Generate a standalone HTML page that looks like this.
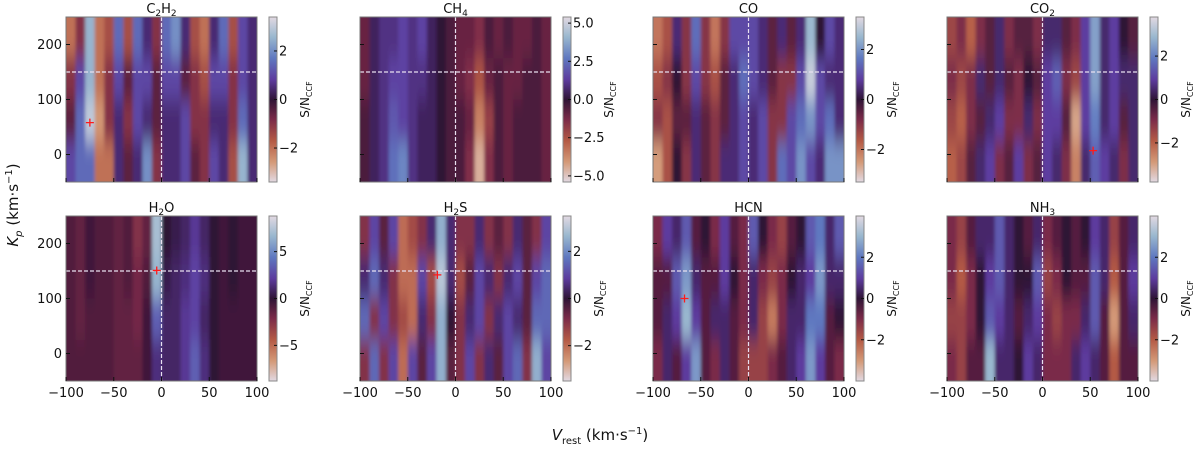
<!DOCTYPE html>
<html><head><meta charset="utf-8">
<style>
body{margin:0;background:#fff;}
svg text{font-family:"DejaVu Sans","Liberation Sans",sans-serif;fill:#111;}
</style></head>
<body>
<svg id="fig" xmlns="http://www.w3.org/2000/svg" width="1200" height="448" viewBox="0 0 1200 448">
<defs>
<linearGradient id="cmap" x1="0" y1="1" x2="0" y2="0">
<stop offset="0" stop-color="#e2d9e2"/><stop offset="0.12" stop-color="#d49a78"/>
<stop offset="0.25" stop-color="#b45a45"/><stop offset="0.38" stop-color="#7a2a48"/>
<stop offset="0.5" stop-color="#2f1436"/><stop offset="0.62" stop-color="#5d3b9e"/>
<stop offset="0.75" stop-color="#5f78c0"/><stop offset="0.88" stop-color="#9ab8cf"/>
<stop offset="1" stop-color="#e2d9e2"/>
</linearGradient>
<filter id="soft" x="-10%" y="-10%" width="120%" height="120%"><feGaussianBlur stdDeviation="1.6 11"/></filter>
</defs>
<text transform="translate(18,205) rotate(-90)" text-anchor="middle" font-size="15"><tspan font-style="italic">K</tspan><tspan font-style="italic" font-size="10" dy="4">p</tspan><tspan dy="-4"> (km·s</tspan><tspan font-size="10" dy="-6">−1</tspan><tspan dy="6">)</tspan></text>
<text x="600" y="440" text-anchor="middle" font-size="15"><tspan font-style="italic">V</tspan><tspan font-size="10" dy="4">rest</tspan><tspan dy="-4"> (km·s</tspan><tspan font-size="10" dy="-6">−1</tspan><tspan dy="6">)</tspan></text>
</svg>
<script>
const vTicks=[-100,-50,0,50,100];
const kpTicks=[0,100,200];
const kpBands=[250,175,100,25,-50];
const names=["C2H2","CH4","CO","CO2","H2O","H2S","HCN","NH3"];
const titles=[["C",["2"],"H",["2"]],["CH",["4"]],["CO"],["CO",["2"]],["H",["2"],"O"],["H",["2"],"S"],["HCN"],["NH",["3"]]];
const vmax=[3.4,5.4,3.3,3.8,8.8,3.5,4.0,4.0];
const cbTicks=[[-2,0,2],[-5,-2.5,0,2.5,5],[-2,0,2],[-2,0,2],[-5,0,5],[-2,0,2],[-2,0,2],[-2,0,2]];
const cbLabels=[["−2","0","2"],["−5.0","−2.5","0.0","2.5","5.0"],["−2","0","2"],["−2","0","2"],["−5","0","5"],["−2","0","2"],["−2","0","2"],["−2","0","2"]];
const crossV=[-75,null,null,53,-5,-19,-67,null];
const crossKp=[58,null,null,7,151,143,100,null];
const snC2H2=[[-2,-1,2.5,-2,-1.5,1.5,-1.5,1.5,0.5,-1,1.5,2,0.5,-1.5,-2,0.5,1.5,-1.5,1,0.5],[-1,1,2.5,-2,-1,1,-0.5,1,1,-0.5,1,1,-0.5,-1,-1.5,1,1,-1,1,0.5],[-0.5,1.5,3,-2.5,-1,0.5,-1,1,0.5,-0.5,0.5,0.5,1,-1,-1,0.5,0.5,-1,1.5,0.5],[1,1.5,1.5,-2,-2,0.5,-0.5,0.5,2,-1,0.5,0.5,1,-0.5,-1,1,0.5,-1.5,2.5,0.5]];
const snCH4=[[-1,0.5,1,1,1.5,1,1.5,0.5,0,-0.5,-1,-1,-1.5,-0.5,-1,-0.5,-1,-1,-0.5,-1],[-1,0.5,1,1.5,1.5,1,1,0.5,0,-0.5,-1,-1.5,-2.5,-1,-0.5,-1,-1,-0.5,-0.5,-1],[-0.5,0.5,1,2,1.5,1,0.5,0.5,0,-0.5,-0.5,-1,-3.5,-2,-0.5,-1,-0.5,-0.5,-0.5,-1],[-0.5,0.5,1,2.5,3,1,0.5,0.5,0,-0.5,-0.5,-1.5,-4.5,-1.5,-0.5,-1,-0.5,-0.5,-0.5,-1]];
const snCO=[[-2,-1.5,0.5,-1,1.5,-1,-2,-1,1,1,1,0.5,-0.5,0.5,-0.5,0.5,2.5,0,1,0.5],[-1.5,-1,0,-1,1,-1,-1.5,-0.5,0.5,1.5,1,0.5,-0.5,-1,-1,1,3,1,0.5,0.5],[-1,-1.5,-0.5,-0.5,0.5,-0.5,-1,-0.5,0.5,1,0.5,1,-1,-1,1,1.5,2,1,1.5,0.5],[-2.5,-1.5,0,-1,0.5,-0.5,-1,0.5,0.5,1,0.5,1,-1,1.5,1,2,1,0.5,2,2]];
const snCO2=[[-1.5,-1,-2,-1,-0.5,0.5,-1,-0.5,-0.5,-1,0.5,0.5,-0.5,-1,1,2.5,0.5,1,0,-0.5],[-1,-1.5,-1,0.5,-0.5,0.5,-0.5,-1,0,-0.5,1,1.5,-1,-1.5,1,2.5,0.5,1,0.5,0.5],[-1.5,-2,-1,-0.5,0.5,1,-1,-1,0.5,-1,1,1,-0.5,-3,1,2,0.5,1,-0.5,0.5],[-2,-1.5,-0.5,0.5,1,-1,-0.5,1,-1,-0.5,1,0.5,-1,-2.5,0.5,1.5,1,0.5,-1,0.5]];
const snH2O=[[-1,-1.5,-0.5,-1,-1,-1.5,-1,-2.5,-1.5,7,0,0.5,1,2,1,0,-0.5,0,-0.5,-0.5],[-1,-1.5,-0.5,-1,-1,-1.5,-1,-2,-1,6.5,0.5,1,1.5,2.5,1.5,0,-0.5,0,-0.5,-0.5],[-1,-1.5,-1,-1,-1,-1.5,-1.5,-2,-0.5,3.5,1,1,2,2.5,1,0,-0.5,-0.5,-0.5,-0.5],[-1,-1,-1,-1,-1,-1.5,-1.5,-1.5,-0.5,1.5,1,1,2,3.5,1.5,0,-0.5,-0.5,-0.5,-0.5]];
const snH2S=[[-1,1,-0.5,1,-2,-1.5,-1,0.5,2.5,0.5,-1,-1,0.5,-1,-0.5,-1,0.5,-0.5,-1,1],[0.5,1.5,0.5,-1,-2,-2,1,-1.5,3,0.5,-1.5,-0.5,1,0.5,-1,0.5,1,-0.5,1,1.5],[1.5,-1,1,-1,-1.5,-2,0.5,-1,2.5,0,-1,0.5,1,-1,0.5,1,0.5,-0.5,1.5,1.5],[-1,1.5,-1,1,-2,1,-0.5,1,2.5,-0.5,-1,1,-1,0.5,-0.5,1,1.5,-1,2.5,1]];
const snHCN=[[-1,1,0.5,1.5,-0.5,0,-1,1,-0.5,-1,1.5,0,-1,-1.5,-0.5,0,1.5,2,0.5,1.5],[-0.5,-0.5,1.5,2.5,0.5,-0.5,-0.5,1,0,-1,0.5,-1,-1.5,-1,0,0.5,1,2.5,0.5,0.5],[-0.5,0.5,1,3,1,-0.5,0.5,0.5,-0.5,-1,0.5,-1.5,-2.5,-1,0.5,0.5,2,2,-0.5,0],[-1,0.5,-0.5,1,2.5,-0.5,-1,0.5,-0.5,-1.5,-1.5,-1.5,-1,-0.5,0.5,1,2.5,1,-0.5,-1]];
const snNH3=[[-1,-1.5,-0.5,0.5,0.5,1.5,0.5,0,-0.5,0.5,-1,-0.5,0,-0.5,0,1,0.5,-1.5,-0.5,0.5],[-1,-2,-1,0,1,1.5,0.5,0,0,1.5,-1.5,-1,0,-0.5,-0.5,1.5,0.5,-2,-0.5,1],[-1.5,-1.5,-1,0,1.5,1,0.5,-0.5,0.5,1,-1,-1.5,-1,-1,0.5,1.5,-0.5,-3,-0.5,0.5],[-1,-1.5,-0.5,-0.5,3,0.5,0.5,0,1,0.5,-1,-1,-1,0.5,1,0.5,-0.5,-2,-0.5,-0.5]];
const grids=[snC2H2,snCH4,snCO,snCO2,snH2O,snH2S,snHCN,snNH3];

const NS="http://www.w3.org/2000/svg";
const svg=document.getElementById("fig");
const stops=[[-1,[226,217,226]],[-0.75,[212,154,120]],[-0.5,[180,90,69]],[-0.25,[122,42,72]],[0,[47,20,54]],[0.25,[93,59,158]],[0.5,[95,120,192]],[0.75,[154,184,207]],[1,[226,217,226]]];
function cmap(t){t=Math.max(-1,Math.min(1,t));for(let i=0;i<stops.length-1;i++){const a=stops[i],b=stops[i+1];if(t<=b[0]){const f=(t-a[0])/(b[0]-a[0]);const c=a[1].map((v,k)=>Math.round(v+(b[1][k]-v)*f));return `rgb(${c[0]},${c[1]},${c[2]})`;}}return "rgb(226,217,226)";}
function mk(tag,attrs,parent){const e=document.createElementNS(NS,tag);for(const k in attrs)e.setAttribute(k,attrs[k]);(parent||svg).appendChild(e);return e;}
const colX=[66,360,653,947], rowY=[17,216], PW=191, PH=165, cbOff=203, cbW=8;
const cbLabelOff=[14,24,14,14,14,14,14,14];
const VMIN=-100,VMAX=100,KMIN=-50,KMAX=250;

names.forEach((nm,p)=>{
  const x0=colX[p%4], y0=rowY[Math.floor(p/4)], row=Math.floor(p/4), col=p%4;
  const sx=v=>x0+(v-VMIN)/(VMAX-VMIN)*PW;
  const sy=k=>y0+(KMAX-k)/(KMAX-KMIN)*PH;
  const g=mk("g",{});
  
  
  const cid="clip"+p;
  const cp=mk("clipPath",{id:cid},g);mk("rect",{x:x0,y:y0,width:PW,height:PH},cp);
  const hg=mk("g",{"clip-path":`url(#${cid})`},g);
  
  
  mk("rect",{x:x0,y:y0,width:PW,height:PH,fill:"#2f1436"},hg);
  const inner=mk("g",{filter:"url(#soft)"},hg);
  const data=grids[p], nc=data[0].length, nr=data.length;
  for(let r=0;r<nr;r++){for(let c=0;c<nc;c++){
    const va=VMIN+(VMAX-VMIN)*c/nc, vb=VMIN+(VMAX-VMIN)*(c+1)/nc;
    let xa=sx(va), xb=sx(vb), ya=sy(kpBands[r]), yb=sy(kpBands[r+1]);
    if(c===0)xa-=15; if(c===nc-1)xb+=15; if(r===0)ya-=25; if(r===nr-1)yb+=25;
    const cell=mk("rect",{x:xa,y:ya,width:xb-xa+0.5,height:yb-ya+0.5,fill:cmap(data[r][c]/vmax[p])},inner);
    
    
  }}
  const vl=mk("line",{x1:sx(0),x2:sx(0),y1:y0,y2:y0+PH,stroke:"#e8e0f0","stroke-width":1.2,"stroke-dasharray":"4 2"},g);
  
  
  const hl=mk("line",{x1:x0,x2:x0+PW,y1:sy(150),y2:sy(150),stroke:"#e8e0f0","stroke-width":1.2,"stroke-dasharray":"4 2"},g);
  
  
  if(crossV[p]!==null){
    const cx=sx(crossV[p]), cy=sy(crossKp[p]);
    const cr=mk("path",{d:`M${cx-4},${cy}H${cx+4}M${cx},${cy-4}V${cy+4}`,stroke:"#ff1a1a","stroke-width":1.3},g);
    
    
  }
  const fr=mk("rect",{x:x0,y:y0,width:PW,height:PH,fill:"none",stroke:"#777","stroke-width":1},g);
  
  
  vTicks.forEach(v=>{
    mk("line",{x1:sx(v),x2:sx(v),y1:y0+PH,y2:y0+PH-4,stroke:"#111"},g);
    if(row===1){const t=mk("text",{x:sx(v),y:y0+PH+16,"text-anchor":"middle","font-size":13},g);t.textContent=v<0?"−"+(-v):String(v);
      
      }
  });
  kpTicks.forEach(k=>{
    mk("line",{x1:x0,x2:x0+4,y1:sy(k),y2:sy(k),stroke:"#111"},g);
    if(col===0){const t=mk("text",{x:x0-4,y:sy(k)+4.5,"text-anchor":"end","font-size":13},g);t.textContent=String(k);
      
      }
  });
  const tt=mk("text",{x:x0+PW/2,y:y0-4,"text-anchor":"middle","font-size":13},g);
  
  
  titles[p].forEach(part=>{const s=mk("tspan",{},tt);if(Array.isArray(part)){s.setAttribute("font-size","9");s.setAttribute("dy","3");s.textContent=part[0];const z=mk("tspan",{dy:"-3","font-size":"13"},tt);z.textContent="\u200b";}else s.textContent=part;});
  const cx0=x0+cbOff;
  const cb=mk("rect",{x:cx0,y:y0,width:cbW,height:PH,fill:"url(#cmap)",stroke:"#888","stroke-width":1},g);
  
  
  const cy=s=>y0+PH/2-s/vmax[p]*PH/2;
  cbTicks[p].forEach((s,i)=>{
    mk("line",{x1:cx0+cbW-3,x2:cx0+cbW,y1:cy(s),y2:cy(s),stroke:"#111"},g);
    const t=mk("text",{x:cx0+cbW+2,y:cy(s)+4.5,"font-size":13},g);t.textContent=cbLabels[p][i];
    
    
  });
  const cl=mk("text",{transform:`translate(${cx0+cbW+cbLabelOff[p]+18},${y0+PH/2}) rotate(-90)`,"text-anchor":"middle","font-size":12},g);
  
  
  cl.innerHTML='S/N<tspan font-size="8" dy="3">CCF</tspan>';
});
</script>
</body></html>
